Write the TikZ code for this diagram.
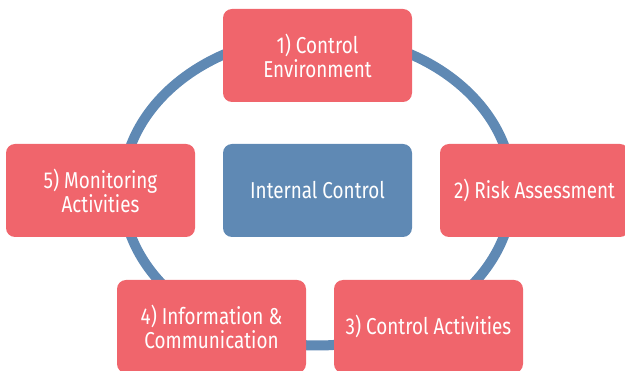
\documentclass[tikz,border=0pt]{standalone}
\usepackage{fontspec}
\setmainfont{Fira Sans}[FakeStretch=0.82]
\usetikzlibrary{positioning}

\begin{document}
\begin{tikzpicture}[x=1pt, y=-1pt,
    every node/.style={inner sep=0,outer sep=0},
    stage/.style={fill=myred, text=white, rounded corners=9pt, minimum width=189pt, minimum height=93pt, align=center, font=\fontsize{23}{24}\selectfont},
    core/.style={stage, fill=myblue},
    ring/.style={draw=myblue, line width=10pt}]
        % Colors
        \definecolor{myred}{RGB}{240,101,108}
        \definecolor{myblue}{RGB}{95,137,180}

        \useasboundingbox (0,0) rectangle (625,371);

        % Ring behind everything
        \coordinate (mid) at (317.5,190.5);
        \draw[ring] (mid) ellipse [x radius=195pt, y radius=155pt];

        % Centre
        \node[core] (int_ctrl) at (mid) {Internal Control};

        % Components
        \node[stage] (ctrl_env) at (317.5,55.5) {1) Control\\Environment};
        \node[stage] (risk) at (534.5,190.5) {2) Risk Assessment};
        \node[stage] (ctrl_act) at (428.5,326.5) {3) Control Activities};
        \node[stage] (info_comm) at (211.5,326.5) {4) Information \&\\Communication};
        \node[stage] (monitor) at (100.5,190.5) {5) Monitoring\\Activities};
      \end{tikzpicture}
\end{document}
